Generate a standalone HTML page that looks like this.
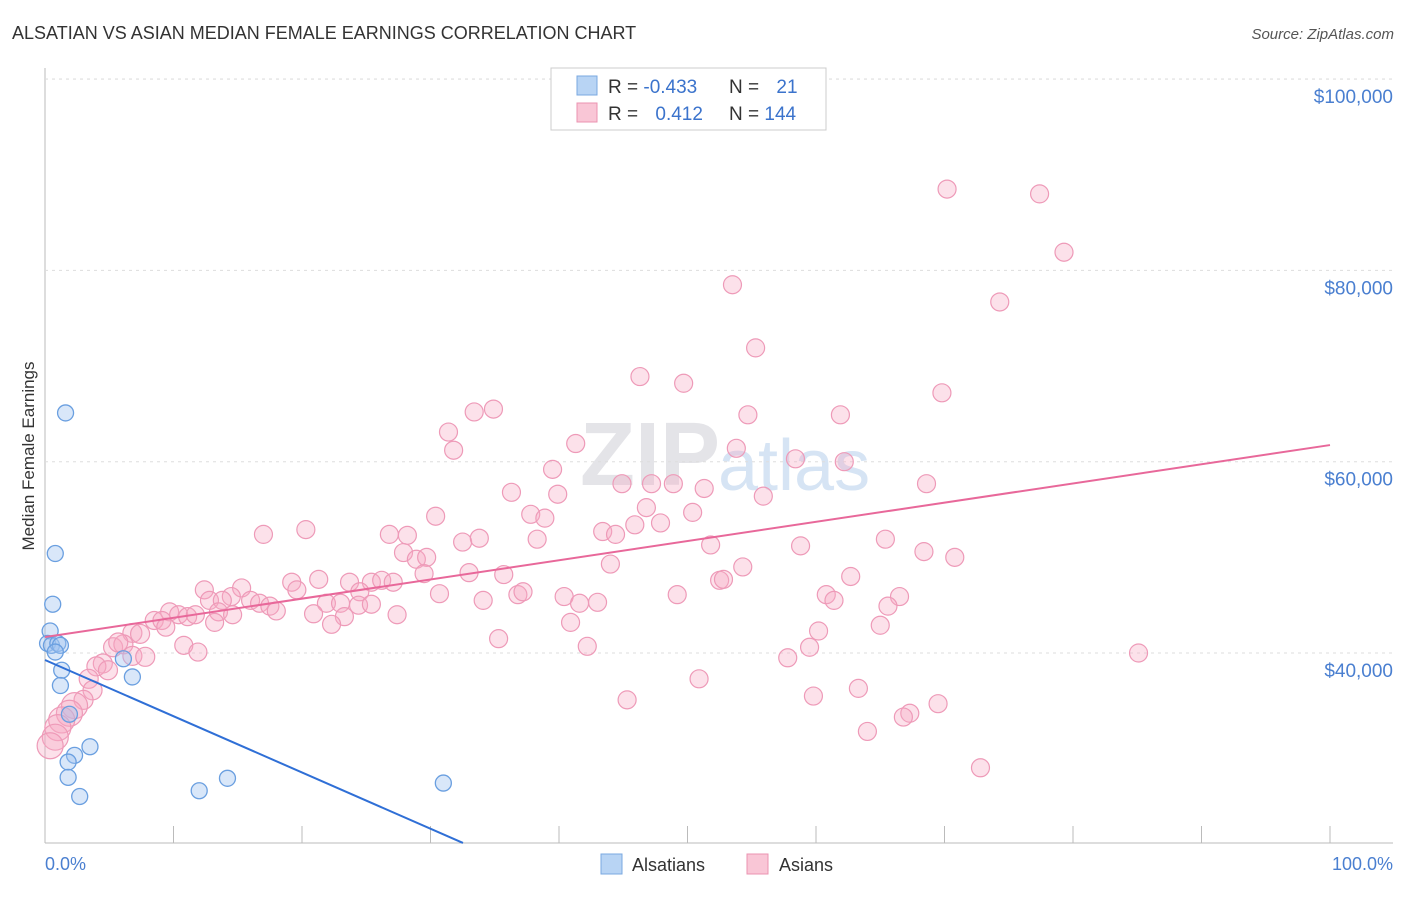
<!DOCTYPE html>
<html><head><meta charset="utf-8"><style>
body{margin:0;background:#fff;font-family:"Liberation Sans",sans-serif;}
svg text{font-family:"Liberation Sans",sans-serif;}
</style></head><body>
<svg id="c" width="1406" height="892" xmlns="http://www.w3.org/2000/svg">
<text x="12" y="39" font-size="18" fill="#333">ALSATIAN VS ASIAN MEDIAN FEMALE EARNINGS CORRELATION CHART</text>
<text x="1394" y="39" font-size="15" fill="#555" font-style="italic" text-anchor="end">Source: ZipAtlas.com</text>
<text x="720" y="485" font-size="90" fill="#e4e4e8" text-anchor="end" font-family="Liberation Serif" font-weight="bold">ZIP</text>
<text x="718" y="490" font-size="72" fill="#d6e4f4">atlas</text>
<g id="grid"></g>
<g id="pts"></g>
<g id="lines"></g>
<text transform="translate(34,456) rotate(-90)" font-size="17" fill="#333" text-anchor="middle">Median Female Earnings</text>
<text x="45" y="870" font-size="18" fill="#4a7fd0">0.0%</text>
<text x="1393" y="870" font-size="18" fill="#4a7fd0" text-anchor="end">100.0%</text>
<g>
<rect x="551" y="68" width="275" height="62" fill="#fff" stroke="#ccc"/>
<rect x="577" y="76" width="20" height="19" fill="#b8d4f4" stroke="#7aa8e0"/>
<rect x="577" y="103" width="20" height="19" fill="#f9c6d6" stroke="#eb93b0"/>
<text x="608" y="93" font-size="19" fill="#333">R = <tspan fill="#3b73cc">-0.433</tspan></text>
<text x="729" y="93" font-size="19" fill="#333">N = <tspan fill="#3b73cc" dx="12">21</tspan></text>
<text x="608" y="120" font-size="19" fill="#333">R = <tspan fill="#3b73cc" dx="12">0.412</tspan></text>
<text x="729" y="120" font-size="19" fill="#333">N = <tspan fill="#3b73cc">144</tspan></text>
</g>
<g>
<rect x="601" y="854" width="21" height="20" fill="#b8d4f4" stroke="#7aa8e0"/>
<text x="632" y="871" font-size="18" fill="#333">Alsatians</text>
<rect x="747" y="854" width="21" height="20" fill="#f9c6d6" stroke="#eb93b0"/>
<text x="779" y="871" font-size="18" fill="#333">Asians</text>
</g>
</svg>
<script>
const yTicks=[40000,60000,80000,100000];
const yTickLabels=["$40,000","$60,000","$80,000","$100,000"];
const blueX=[1.6,0.8,0.6,0.4,0.2,0.5,1.0,1.2,0.8,1.3,1.2,1.9,3.5,2.3,1.8,1.8,2.7,6.1,6.8,12.0,14.2,31.0];
const blueY=[65100,50400,45100,42300,41000,40800,41000,40800,40100,38200,36600,33600,30200,29300,28600,27000,25000,39400,37500,25600,26900,26400];
const pinkX=[70.2,77.4,79.3,53.5,74.3,55.3,46.3,49.7,69.8,33.4,34.9,54.7,61.9,31.4,31.8,41.3,53.8,58.4,62.2,39.5,44.9,47.2,48.9,51.3,68.6,36.3,39.9,55.9,46.8,37.8,38.9,30.4,50.4,47.9,45.9,43.4,44.4,17.0,20.3,26.8,28.2,32.5,33.8,38.3,51.8,58.8,65.4,68.4,70.8,27.9,28.9,29.7,44.0,33.0,35.7,29.5,54.3,62.7,52.5,52.8,21.3,19.2,23.7,25.4,26.2,27.1,19.6,24.5,12.4,15.3,14.5,16.0,16.7,17.5,18.0,30.7,34.1,36.8,37.2,40.4,41.6,43.0,49.2,60.8,61.4,66.5,65.6,12.8,13.8,13.5,21.9,23.0,24.4,25.4,20.9,23.3,27.4,14.6,13.2,9.7,10.4,8.5,9.1,11.1,6.8,7.4,9.4,11.7,40.9,65.0,60.2,22.3,10.8,11.9,5.3,6.1,5.7,6.8,7.8,35.3,42.2,59.5,4.5,4.0,4.9,57.8,85.1,50.9,63.3,3.4,3.7,3.0,2.3,1.9,45.3,59.8,69.5,67.3,66.8,64.0,1.3,1.0,0.8,0.4,72.8];
const pinkY=[88500,88000,81900,78500,76700,71900,68900,68200,67200,65200,65500,64900,64900,63100,61200,61900,61400,60300,60000,59200,57700,57700,57700,57200,57700,56800,56600,56400,55200,54500,54100,54300,54700,53600,53400,52700,52400,52400,52900,52400,52300,51600,52000,51900,51300,51200,51900,50600,50000,50500,49800,50000,49300,48400,48200,48300,49000,48000,47600,47700,47700,47400,47400,47400,47600,47400,46600,46400,46600,46800,45900,45500,45200,44900,44400,46200,45500,46100,46400,45900,45200,45300,46100,46100,45500,45900,44900,45500,45500,44300,45200,45200,45000,45100,44100,43800,44000,44000,43200,44300,44000,43400,43400,43800,42100,42000,42700,44000,43200,42900,42300,43000,40800,40100,40600,40900,41100,39700,39600,41500,40700,40600,38900,38600,38200,39500,40000,37300,36300,37300,36100,35100,34500,33700,35100,35500,34700,33700,33300,31800,33000,32200,31200,30300,28000];
const blueTrend=[39270,-588];
const pinkTrend=[41670,200.7];
const NS="http://www.w3.org/2000/svg";
const xs=p=>45+p*12.85;
const ys=v=>653-(v-40000)*191.3/20000;
function mk(t,a,parent){const e=document.createElementNS(NS,t);for(const k in a)e.setAttribute(k,a[k]);parent.appendChild(e);return e;}
const grid=document.getElementById('grid');
let ax=mk('line',{x1:45,y1:68,x2:45,y2:843,stroke:'#bbb'},grid);


let bx=mk('line',{x1:45,y1:843,x2:1393,y2:843,stroke:'#bbb'},grid);


mk('line',{x1:45,y1:79,x2:1393,y2:79,stroke:'#ddd','stroke-dasharray':'3,4'},grid);
yTicks.forEach((v,i)=>{
  const g=mk('line',{x1:45,y1:ys(v),x2:1393,y2:ys(v),stroke:'#ddd','stroke-dasharray':'3,4'},grid);
  
  
  const t=mk('text',{x:1393,y:ys(v)+24,'font-size':19,fill:'#4a7fd0','text-anchor':'end'},grid);
  t.textContent=yTickLabels[i];
  
  
});
for(let i=0;i<=10;i++){
  const t=mk('line',{x1:xs(i*10),y1:826,x2:xs(i*10),y2:843,stroke:'#bbb'},grid);
  
  
}
const pts=document.getElementById('pts');
pinkX.forEach((p,i)=>{
  const r=p<3?13:(p<8?9.5:9);
  const c=mk('circle',{cx:xs(p),cy:ys(pinkY[i]),r:r,fill:'rgba(246,170,196,0.35)',stroke:'#ee9ab8','stroke-width':1.2},pts);
  
  
});
blueX.forEach((p,i)=>{
  const c=mk('circle',{cx:xs(p),cy:ys(blueY[i]),r:8,fill:'rgba(160,196,240,0.4)',stroke:'#6a9fe0','stroke-width':1.3},pts);
  
  
});
const lines=document.getElementById('lines');
const bEnd=(20145-blueTrend[0])/blueTrend[1];
const bl=mk('line',{x1:xs(0),y1:ys(blueTrend[0]),x2:xs(bEnd),y2:ys(blueTrend[0]+blueTrend[1]*bEnd),stroke:'#2f6fd6','stroke-width':2},lines);


const pl=mk('line',{x1:xs(0),y1:ys(pinkTrend[0]),x2:xs(100),y2:ys(pinkTrend[0]+pinkTrend[1]*100),stroke:'#e8689a','stroke-width':2},lines);


</script>
</body></html>
